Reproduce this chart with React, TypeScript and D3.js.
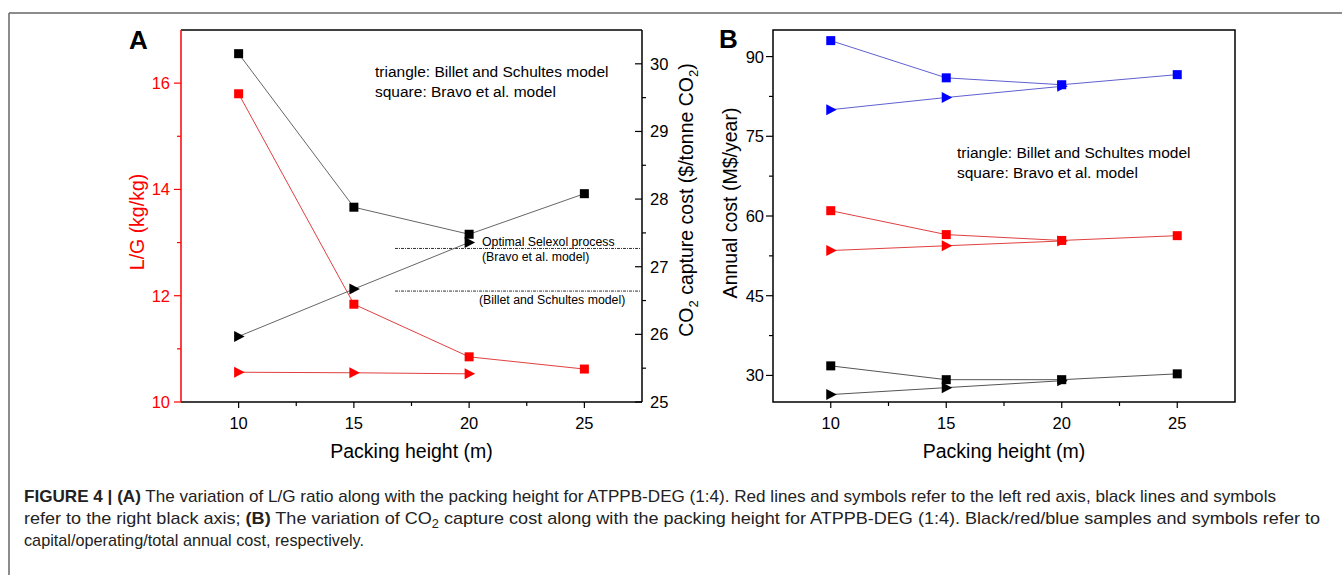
import * as d3 from "d3";
import React from "react";

const heights = [10, 15, 20, 25];
const xTicks = [10, 15, 20, 25];
const xMinor = [12.5, 17.5, 22.5];

// panel A
const lgBravo = [15.8, 11.84, 10.85, 10.62];
const lgBillet = [10.56, 10.55, 10.53];
const costBravo = [30.15, 27.88, 27.48, 28.08];
const costBillet = [25.97, 26.67, 27.36];
const optimalBravo = 27.27;
const optimalBillet = 26.64;
const lgTicks = [10, 12, 14, 16];
const lgMinor = [11, 13, 15];
const costTicks = [25, 26, 27, 28, 29, 30];
const costMinor = [25.5, 26.5, 27.5, 28.5, 29.5];

// panel B
const totalBravo = [93.0, 86.0, 84.7, 86.6];
const totalBillet = [80.0, 82.3, 84.4];
const operatingBravo = [61.0, 56.5, 55.4, 56.3];
const operatingBillet = [53.5, 54.4, 55.3];
const capitalBravo = [31.8, 29.2, 29.2, 30.3];
const capitalBillet = [26.4, 27.7, 29.0];
const annualTicks = [30, 45, 60, 75, 90];
const annualMinor = [37.5, 52.5, 67.5, 82.5];

const FONT = "'Liberation Sans', Arial, Helvetica, sans-serif";
const TICK = 16.5;
const LABEL = 19.5;

type Sc = d3.ScaleLinear<number, number>;

function Series({ x, y, vals, shape, fill, stroke }: { x: Sc; y: Sc; vals: number[]; shape: "sq" | "tri"; fill: string; stroke: string }) {
  const pts: [number, number][] = vals.map((v, i) => [x(heights[i]), y(v)]);
  const line = d3.line();
  return (
    <g>
      <path d={line(pts) || ""} fill="none" stroke={stroke} strokeWidth={1} />
      {pts.map(([px, py], i) =>
        shape === "sq" ? (
          <rect key={i} x={px - 4.5} y={py - 4.5} width={9} height={9} fill={fill} />
        ) : (
          <path key={i} d={`M${px - 4.5},${py - 5.5}L${px + 6},${py}L${px - 4.5},${py + 5.5}Z`} fill={fill} />
        )
      )}
    </g>
  );
}

function XAxis({ x, y0 }: { x: Sc; y0: number }) {
  return (
    <g>
      {xTicks.map((t) => (
        <g key={t}>
          <line x1={x(t)} x2={x(t)} y1={y0} y2={y0 + 6} stroke="#000" strokeWidth={1.2} />
          <text x={x(t)} y={y0 + 27} textAnchor="middle" fontSize={TICK} fontFamily={FONT}>{t}</text>
        </g>
      ))}
      {xMinor.map((t) => (
        <line key={t} x1={x(t)} x2={x(t)} y1={y0} y2={y0 + 4} stroke="#000" strokeWidth={1.2} />
      ))}
      <text x={(x.range()[0] + x.range()[1]) / 2} y={y0 + 56} textAnchor="middle" fontSize={LABEL} fontFamily={FONT}>Packing height (m)</text>
    </g>
  );
}

function PanelA() {
  const x = d3.scaleLinear().domain([7.5, 27.5]).range([181, 642]);
  const yL = d3.scaleLinear().domain([10, 17]).range([402, 30]);
  const yR = d3.scaleLinear().domain([25, 30.5]).range([402, 30]);
  const red = "#ff0000";
  return (
    <g>
      <text x={129} y={49} fontSize={26} fontWeight="bold" fontFamily={FONT}>A</text>
      {/* frame */}
      <line x1={181} x2={642} y1={30} y2={30} stroke="#000" strokeWidth={1.5} />
      <line x1={642} x2={642} y1={30} y2={402} stroke="#000" strokeWidth={1.5} />
      <line x1={181} x2={642} y1={402} y2={402} stroke="#000" strokeWidth={1.5} />
      <line x1={181} x2={181} y1={30} y2={402} stroke={red} strokeWidth={1.5} />
      {/* left red axis */}
      {lgTicks.map((t) => (
        <g key={t}>
          <line x1={174} x2={181} y1={yL(t)} y2={yL(t)} stroke={red} strokeWidth={1.2} />
          <text x={170} y={yL(t) + 6} textAnchor="end" fontSize={TICK} fill={red} fontFamily={FONT}>{t}</text>
        </g>
      ))}
      {lgMinor.map((t) => (
        <line key={t} x1={177} x2={181} y1={yL(t)} y2={yL(t)} stroke={red} strokeWidth={1.2} />
      ))}
      <text transform={`translate(144,222) rotate(-90)`} textAnchor="middle" fontSize={LABEL} fill={red} fontFamily={FONT}>L/G (kg/kg)</text>
      {/* right axis */}
      {costTicks.map((t) => (
        <g key={t}>
          <line x1={635} x2={642} y1={yR(t)} y2={yR(t)} stroke="#000" strokeWidth={1.2} />
          <text x={650} y={yR(t) + 6} fontSize={TICK} fontFamily={FONT}>{t}</text>
        </g>
      ))}
      {costMinor.map((t) => (
        <line key={t} x1={642} x2={646} y1={yR(t)} y2={yR(t)} stroke="#000" strokeWidth={1.2} />
      ))}
      <text transform={`translate(693,200) rotate(-90)`} textAnchor="middle" fontSize={LABEL} fontFamily={FONT}>
        CO<tspan dy={5} fontSize={13}>2</tspan><tspan dy={-5}> capture cost ($/tonne CO</tspan><tspan dy={5} fontSize={13}>2</tspan><tspan dy={-5}>)</tspan>
      </text>
      <XAxis x={x} y0={402} />
      {/* optimal reference lines */}
      <line x1={395} x2={642} y1={yR(optimalBravo)} y2={yR(optimalBravo)} stroke="#333" strokeWidth={1} strokeDasharray="3,1,1,1" />
      <line x1={395} x2={642} y1={yR(optimalBillet)} y2={yR(optimalBillet)} stroke="#333" strokeWidth={1} strokeDasharray="3,1,1,1" />
      <text x={482} y={246} fontSize={12.3} fontFamily={FONT}>Optimal Selexol process</text>
      <text x={482} y={261} fontSize={12.3} fontFamily={FONT}>(Bravo et al. model)</text>
      <text x={479} y={304} fontSize={12.3} fontFamily={FONT}>(Billet and Schultes model)</text>
      {/* series */}
      <Series x={x} y={yL} vals={lgBravo} shape="sq" fill={red} stroke="#e04040" />
      <Series x={x} y={yL} vals={lgBillet} shape="tri" fill={red} stroke="#e04040" />
      <Series x={x} y={yR} vals={costBravo} shape="sq" fill="#000" stroke="#666" />
      <Series x={x} y={yR} vals={costBillet} shape="tri" fill="#000" stroke="#666" />
      <text x={375} y={77} fontSize={15.5} fontFamily={FONT}>triangle: Billet and Schultes model</text>
      <text x={375} y={97} fontSize={15.5} fontFamily={FONT}>square: Bravo et al. model</text>
    </g>
  );
}

function PanelB() {
  const x = d3.scaleLinear().domain([7.5, 27.5]).range([773, 1235]);
  const y = d3.scaleLinear().domain([25, 95]).range([402, 30]);
  return (
    <g>
      <text x={719} y={48} fontSize={26} fontWeight="bold" fontFamily={FONT}>B</text>
      <rect x={773} y={30} width={462} height={372} fill="none" stroke="#000" strokeWidth={1.5} />
      {annualTicks.map((t) => (
        <g key={t}>
          <line x1={766} x2={773} y1={y(t)} y2={y(t)} stroke="#000" strokeWidth={1.2} />
          <text x={764} y={y(t) + 6} textAnchor="end" fontSize={TICK} fontFamily={FONT}>{t}</text>
        </g>
      ))}
      {annualMinor.map((t) => (
        <line key={t} x1={769} x2={773} y1={y(t)} y2={y(t)} stroke="#000" strokeWidth={1.2} />
      ))}
      <text transform={`translate(737,203) rotate(-90)`} textAnchor="middle" fontSize={LABEL} fontFamily={FONT}>Annual cost (M$/year)</text>
      <XAxis x={x} y0={402} />
      <Series x={x} y={y} vals={totalBravo} shape="sq" fill="#0000ff" stroke="#6060d0" />
      <Series x={x} y={y} vals={totalBillet} shape="tri" fill="#0000ff" stroke="#6060d0" />
      <Series x={x} y={y} vals={operatingBravo} shape="sq" fill="#ff0000" stroke="#e04040" />
      <Series x={x} y={y} vals={operatingBillet} shape="tri" fill="#ff0000" stroke="#e04040" />
      <Series x={x} y={y} vals={capitalBravo} shape="sq" fill="#000" stroke="#555" />
      <Series x={x} y={y} vals={capitalBillet} shape="tri" fill="#000" stroke="#555" />
      <text x={957} y={158} fontSize={15.5} fontFamily={FONT}>triangle: Billet and Schultes model</text>
      <text x={957} y={178} fontSize={15.5} fontFamily={FONT}>square: Bravo et al. model</text>
    </g>
  );
}

export default function App() {
  const cap = { fontSize: 17, fontFamily: "'Liberation Sans Narrow', 'Arial Narrow', " + FONT, fill: "#222" };
  return (
    <svg width={1342} height={575} style={{ position: "absolute", left: 0, top: 0, background: "#fff" }}>
      <rect width={1342} height={575} fill="#fff" />
      <line x1={9} x2={1342} y1={13} y2={13} stroke="#666" strokeWidth={1.5} />
      <line x1={9} x2={9} y1={13} y2={575} stroke="#666" strokeWidth={1.5} />
      <PanelA />
      <PanelB />
      <text x={24} y={502} {...cap} textLength={1252} lengthAdjust="spacingAndGlyphs">
        <tspan fontWeight="bold">FIGURE 4 | (A)</tspan> The variation of L/G ratio along with the packing height for ATPPB-DEG (1:4). Red lines and symbols refer to the left red axis, black lines and symbols
      </text>
      <text x={24} y={524} {...cap} textLength={1296} lengthAdjust="spacingAndGlyphs">
        refer to the right black axis; <tspan fontWeight="bold">(B)</tspan> The variation of CO<tspan dy={4} fontSize={12}>2</tspan><tspan dy={-4}> capture cost along with the packing height for ATPPB-DEG (1:4). Black/red/blue samples and symbols refer to</tspan>
      </text>
      <text x={24} y={546} {...cap} textLength={340} lengthAdjust="spacingAndGlyphs">
        capital/operating/total annual cost, respectively.
      </text>
    </svg>
  );
}
